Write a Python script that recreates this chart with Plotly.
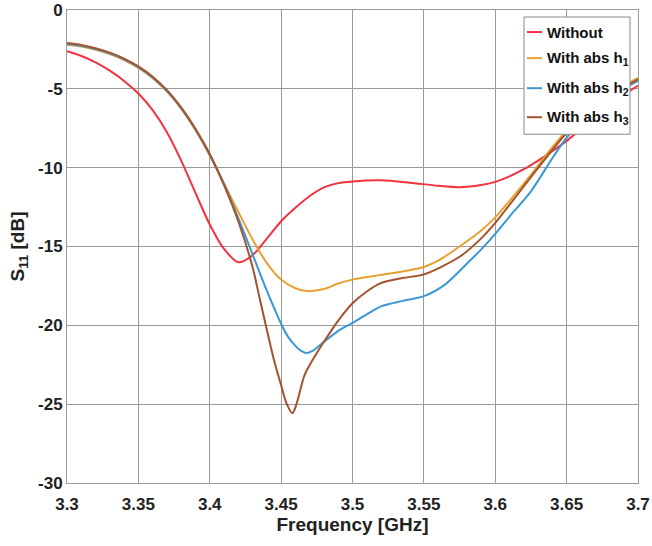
import plotly.graph_objects as go

# ---- data ----
freq_without = [3.30, 3.31, 3.32, 3.33, 3.34, 3.35, 3.36, 3.37, 3.38, 3.39, 3.40, 3.41, 3.42, 3.43,
                3.44, 3.45, 3.46, 3.47, 3.48, 3.49, 3.50, 3.52, 3.54, 3.56, 3.575, 3.59, 3.60, 3.61,
                3.62, 3.63, 3.64, 3.65, 3.66, 3.67, 3.68, 3.69, 3.70]
s11_without = [-2.62, -2.92, -3.32, -3.85, -4.5, -5.3, -6.35, -7.75, -9.55, -11.6, -13.6, -15.15, -16.0, -15.55,
               -14.5, -13.4, -12.55, -11.8, -11.25, -10.98, -10.87, -10.8, -10.95, -11.15, -11.24, -11.1, -10.9, -10.55,
               -10.1, -9.55, -8.95, -8.3, -7.55, -6.8, -6.05, -5.4, -4.8]

freq_h1 = [3.30, 3.31, 3.32, 3.33, 3.34, 3.35, 3.36, 3.37, 3.38, 3.39, 3.40, 3.41, 3.42, 3.43, 3.44,
           3.45, 3.46, 3.468, 3.48, 3.49, 3.50, 3.52, 3.54, 3.55, 3.56, 3.575, 3.59, 3.60, 3.61, 3.625,
           3.64, 3.65, 3.66, 3.675, 3.69, 3.70]
s11_h1 = [-2.2, -2.32, -2.52, -2.8, -3.18, -3.68, -4.33, -5.18, -6.28, -7.63, -9.23, -11.0, -12.8, -14.55, -16.05,
          -17.1, -17.65, -17.83, -17.7, -17.35, -17.1, -16.8, -16.5, -16.3, -15.9, -15.0, -14.0, -13.15, -12.1, -10.45,
          -8.7, -7.65, -6.75, -5.6, -4.8, -4.3]

freq_h2 = [3.30, 3.31, 3.32, 3.33, 3.34, 3.35, 3.36, 3.37, 3.38, 3.39, 3.40, 3.41, 3.42, 3.43, 3.44,
           3.45, 3.455, 3.46, 3.464, 3.468, 3.472, 3.476, 3.48, 3.49, 3.50, 3.51, 3.52, 3.535, 3.55, 3.565,
           3.58, 3.59, 3.60, 3.61, 3.625, 3.64, 3.65, 3.66, 3.675, 3.69, 3.70]
s11_h2 = [-2.15, -2.27, -2.47, -2.75, -3.13, -3.63, -4.28, -5.13, -6.23, -7.58, -9.18, -11.05, -13.2, -15.5, -17.8,
          -19.9, -20.75, -21.3, -21.62, -21.75, -21.62, -21.35, -21.05, -20.35, -19.85, -19.3, -18.8, -18.45, -18.15, -17.4,
          -16.1, -15.2, -14.2, -13.1, -11.5, -9.4, -8.1, -7.1, -5.9, -5.0, -4.5]

freq_h3 = [3.30, 3.31, 3.32, 3.33, 3.34, 3.35, 3.36, 3.37, 3.38, 3.39, 3.40, 3.41, 3.42, 3.43, 3.435,
           3.445, 3.45, 3.454, 3.458, 3.460, 3.462, 3.464, 3.466, 3.468, 3.471, 3.475, 3.481, 3.49, 3.50,
           3.51, 3.519, 3.535, 3.55, 3.575, 3.59, 3.60, 3.625, 3.65, 3.675, 3.70]
s11_h3 = [-2.1, -2.22, -2.42, -2.7, -3.08, -3.58, -4.23, -5.08, -6.18, -7.53, -9.13, -11.1, -13.4, -16.3, -18.3,
          -22.2, -23.8, -25.0, -25.57, -25.2, -24.6, -23.9, -23.25, -22.85, -22.35, -21.75, -20.9, -19.7, -18.6,
          -17.85, -17.35, -17.0, -16.77, -15.65, -14.5, -13.5, -10.6, -7.8, -5.75, -4.4]

x_ticks = [3.3, 3.35, 3.4, 3.45, 3.5, 3.55, 3.6, 3.65, 3.7]
x_tick_labels = ["3.3", "3.35", "3.4", "3.45", "3.5", "3.55", "3.6", "3.65", "3.7"]
y_ticks = [0, -5, -10, -15, -20, -25, -30]
y_tick_labels = ["0", "-5", "-10", "-15", "-20", "-25", "-30"]

series_names = ["Without", "With abs h<sub>1</sub>", "With abs h<sub>2</sub>", "With abs h<sub>3</sub>"]
series_x = [freq_without, freq_h1, freq_h2, freq_h3]
series_y = [s11_without, s11_h1, s11_h2, s11_h3]
series_colors = ["#F2333F", "#E8A030", "#3A98D6", "#A5532E"]

fig = go.Figure()
for name, fx, fy, col in zip(series_names, series_x, series_y, series_colors):
    fig.add_trace(go.Scatter(x=fx, y=fy, mode="lines", name=name, showlegend=False,
                             line=dict(color=col, width=2, shape="spline", smoothing=0.8)))

# ---- legend drawn as a boxed key in the upper right (paper coordinates) ----
legend_box = dict(x0=0.8004, x1=0.986, y0=0.7373, y1=0.9852)
legend_rows_y = [0.9534, 0.8983, 0.8347, 0.7733]
legend_line_x = (0.8056, 0.8319)
legend_text_x = 0.8371

fig.add_shape(type="rect", xref="paper", yref="paper", layer="above",
              fillcolor="white", line=dict(color="#8a8a8a", width=1), **legend_box)
for ry, name, col in zip(legend_rows_y, series_names, series_colors):
    fig.add_shape(type="line", xref="paper", yref="paper", layer="above",
                  x0=legend_line_x[0], x1=legend_line_x[1], y0=ry, y1=ry,
                  line=dict(color=col, width=2))
    fig.add_annotation(xref="paper", yref="paper", x=legend_text_x, y=ry,
                       xanchor="left", yanchor="middle", showarrow=False, text=name,
                       font=dict(size=15, color="#111", weight="bold"))

font_family = "Liberation Sans, Arial, sans-serif"
fig.update_layout(
    width=652, height=546,
    margin=dict(l=67, r=14, t=10, b=63, autoexpand=False),
    paper_bgcolor="white", plot_bgcolor="white",
    font=dict(family=font_family, color="#222"),
    showlegend=False,
)
fig.update_xaxes(
    range=[3.3, 3.7], tickmode="array", tickvals=x_ticks, ticktext=x_tick_labels,
    showgrid=True, gridcolor="#9a9a9a", gridwidth=1,
    showline=True, linecolor="#9a9a9a", linewidth=1, mirror=True,
    ticks="", zeroline=False, automargin=False, ticklabelstandoff=6,
    tickfont=dict(size=17, color="#222", weight="bold"),
    title=dict(text="Frequency [GHz]", font=dict(size=19, color="#222", weight="bold"), standoff=4),
)
fig.update_yaxes(
    range=[-30, 0], tickmode="array", tickvals=y_ticks, ticktext=y_tick_labels,
    showgrid=True, gridcolor="#9a9a9a", gridwidth=1,
    showline=True, linecolor="#9a9a9a", linewidth=1, mirror=True,
    ticks="", zeroline=False, automargin=False,
    tickfont=dict(size=17, color="#222", weight="bold"),
    title=dict(text="S<sub>11</sub> [dB]", font=dict(size=19, color="#222", weight="bold"), standoff=8),
)

# the page's default 8px body margin would shift the figure; remove it so the
# 652x546 figure fills the window exactly
fig.write_html("out.html", config={"displayModeBar": False},
               post_script="document.body.style.margin='0';")
